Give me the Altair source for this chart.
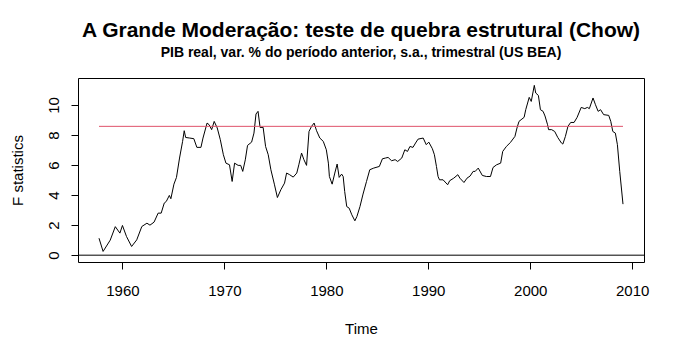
import altair as alt
import pandas as pd

years = [1957.70, 1958.10, 1958.80, 1959.30, 1959.75, 1960.00, 1960.40, 1960.90, 1961.40, 1961.90,
         1962.40, 1962.70, 1963.10, 1963.50, 1963.80, 1964.10, 1964.30, 1964.60, 1964.75, 1965.05,
         1965.30, 1965.60, 1965.90, 1966.06, 1966.20, 1966.60, 1967.00, 1967.30, 1967.70, 1967.90,
         1968.30, 1968.50, 1968.75, 1969.00, 1969.30, 1969.60, 1969.90, 1970.15, 1970.50, 1970.76,
         1971.00, 1971.35, 1971.60, 1971.80, 1972.05, 1972.27, 1972.67, 1972.90, 1973.10, 1973.30,
         1973.50, 1973.80, 1974.04, 1974.30, 1974.56, 1974.90, 1975.20, 1975.54, 1975.90, 1976.10,
         1976.40, 1976.75, 1977.10, 1977.30, 1977.57, 1977.80, 1978.06, 1978.30, 1978.55, 1978.80,
         1979.04, 1979.36, 1979.70, 1980.00, 1980.20, 1980.30, 1980.57, 1980.83, 1981.06, 1981.26,
         1981.50, 1981.65, 1981.80, 1982.00, 1982.24, 1982.50, 1982.80, 1983.00, 1983.30, 1983.60,
         1983.94, 1984.26, 1984.65, 1985.20, 1985.50, 1985.80, 1986.06, 1986.40, 1986.75, 1987.00,
         1987.40, 1987.70, 1987.96, 1988.20, 1988.50, 1988.75, 1989.00, 1989.50, 1989.80, 1990.05,
         1990.40, 1990.60, 1990.80, 1990.96, 1991.10, 1991.45, 1991.90, 1992.10, 1992.50, 1992.90,
         1993.10, 1993.50, 1993.80, 1994.10, 1994.40, 1994.60, 1994.90, 1995.30, 1995.70, 1996.10,
         1996.35, 1996.70, 1997.10, 1997.30, 1997.66, 1998.06, 1998.50, 1998.70, 1998.90, 1999.10,
         1999.40, 1999.56, 1999.90, 2000.10, 2000.40, 2000.54, 2000.80, 2001.00, 2001.26, 2001.45,
         2001.70, 2001.80, 2002.10, 2002.40, 2002.70, 2003.06, 2003.20, 2003.45, 2003.70, 2003.97,
         2004.30, 2004.60, 2005.00, 2005.35, 2005.60, 2005.80, 2006.16, 2006.40, 2006.66, 2006.90,
         2007.20, 2007.70, 2007.90, 2008.10, 2008.35, 2008.55, 2008.78, 2009.10]

fstats = [1.13, 0.25, 1.00, 1.90, 1.47, 1.98, 1.24, 0.58, 1.02, 1.91,
          2.13, 2.00, 2.20, 2.80, 2.80, 3.47, 3.58, 3.98, 3.76, 4.73,
          5.18, 6.47, 7.58, 8.29, 7.84, 7.80, 7.76, 7.18, 7.18, 7.80,
          8.80, 8.69, 8.36, 8.91, 8.47, 7.69, 6.69, 6.13, 6.02, 4.91,
          6.13, 5.98, 5.98, 5.58, 6.35, 7.31, 7.53, 8.13, 9.40, 9.58,
          8.51, 8.51, 7.24, 6.69, 5.69, 4.73, 3.84, 4.36, 4.80, 5.47,
          5.36, 5.20, 5.47, 6.02, 6.80, 6.36, 5.98, 8.24, 8.58, 8.80,
          8.29, 7.80, 7.58, 7.02, 6.13, 5.24, 4.73, 5.47, 6.07, 5.18,
          5.40, 5.24, 4.24, 3.24, 3.13, 2.69, 2.29, 2.58, 3.24, 4.07,
          4.91, 5.69, 5.80, 5.91, 6.42, 6.47, 6.51, 6.29, 6.36, 6.24,
          6.47, 7.02, 6.91, 7.24, 7.18, 7.47, 7.73, 7.80, 7.36, 7.53,
          7.09, 6.69, 5.91, 5.24, 5.02, 5.02, 4.69, 4.96, 5.13, 5.36,
          5.13, 4.84, 5.13, 5.27, 5.58, 5.58, 5.80, 5.31, 5.24, 5.24,
          5.84, 6.02, 6.13, 6.91, 7.24, 7.51, 7.91, 8.47, 8.91, 9.02,
          9.18, 9.69, 10.51, 10.24, 11.31, 10.80, 10.64, 9.69, 9.58, 9.27,
          8.69, 8.36, 8.36, 8.24, 7.84, 7.47, 7.40, 7.91, 8.58, 8.84,
          8.84, 9.18, 9.84, 9.76, 9.84, 9.76, 10.47, 10.02, 9.58, 9.69,
          9.36, 9.31, 8.91, 8.24, 8.13, 7.36, 5.58, 3.40]

boundary = 8.58
x_ticks = [1960, 1970, 1980, 1990, 2000, 2010]
y_ticks = [0, 2, 4, 6, 8, 10]

title_text = "A Grande Moderação: teste de quebra estrutural (Chow)"
subtitle_text = "PIB real, var. % do período anterior, s.a., trimestral (US BEA)"

df = pd.DataFrame({"year": years, "F": fstats})
bdf = pd.DataFrame({"x": [years[0]], "x2": [years[-1]], "y": [boundary]})
zdf = pd.DataFrame({"y": [0]})

FONT = "Liberation Sans"
xscale = alt.Scale(domain=[1955.64, 2011.16], nice=False, zero=False)
yscale = alt.Scale(domain=[-0.454, 11.8], nice=False, zero=False)

xaxis = alt.Axis(values=x_ticks, title="Time", format="d", grid=False, domain=False,
                 tickColor="black", tickSize=7, labelFont=FONT, labelFontSize=15,
                 labelColor="black", labelPadding=21, labelBaseline="middle",
                 labelFlush=False, labelOverlap=False, titleFont=FONT, titleFontSize=15,
                 titleFontWeight="normal", titleColor="black", titleY=66,
                 titleBaseline="middle")
yaxis = alt.Axis(values=y_ticks, title="F statistics", grid=False, domain=False,
                 tickColor="black", tickSize=7, labelFont=FONT, labelFontSize=15,
                 labelColor="black", labelAngle=270, labelAlign="center",
                 labelBaseline="middle", labelPadding=18, labelFlush=False,
                 labelOverlap=False,
                 titleFont=FONT, titleFontSize=15, titleFontWeight="normal",
                 titleColor="black", titleX=-61, titleY=92, titleAngle=270,
                 titleBaseline="middle", titleAlign="center")

line = alt.Chart(df).mark_line(color="black", strokeWidth=1).encode(
    x=alt.X("year:Q", scale=xscale, axis=xaxis),
    y=alt.Y("F:Q", scale=yscale, axis=yaxis),
)
red = alt.Chart(bdf).mark_rule(color="#DF536B", strokeWidth=1).encode(
    x=alt.X("x:Q", scale=xscale, axis=xaxis), x2="x2:Q",
    y=alt.Y("y:Q", scale=yscale, axis=yaxis)
)
zero = alt.Chart(zdf).mark_rule(color="black", strokeWidth=1).encode(
    y=alt.Y("y:Q", scale=yscale, axis=yaxis)
)

chart = alt.layer(line, zero, red).properties(
    width=566, height=184,
    padding={"left": 70, "top": 70, "right": 33, "bottom": 90},
    autosize=alt.AutoSizeParams(type="none"),
    title=alt.TitleParams(text=title_text, subtitle=subtitle_text, font=FONT,
                          fontSize=21, fontWeight="bold", color="black",
                          subtitleFont=FONT, subtitleFontSize=14,
                          subtitleFontWeight="bold", subtitleColor="black",
                          anchor="middle", offset=18, subtitlePadding=5),
).configure(background="white").configure_view(
    stroke="black", strokeWidth=1
).configure_axis(labelOverlap=False)

chart.save("out.html", embed_options={"renderer": "svg", "actions": False})
